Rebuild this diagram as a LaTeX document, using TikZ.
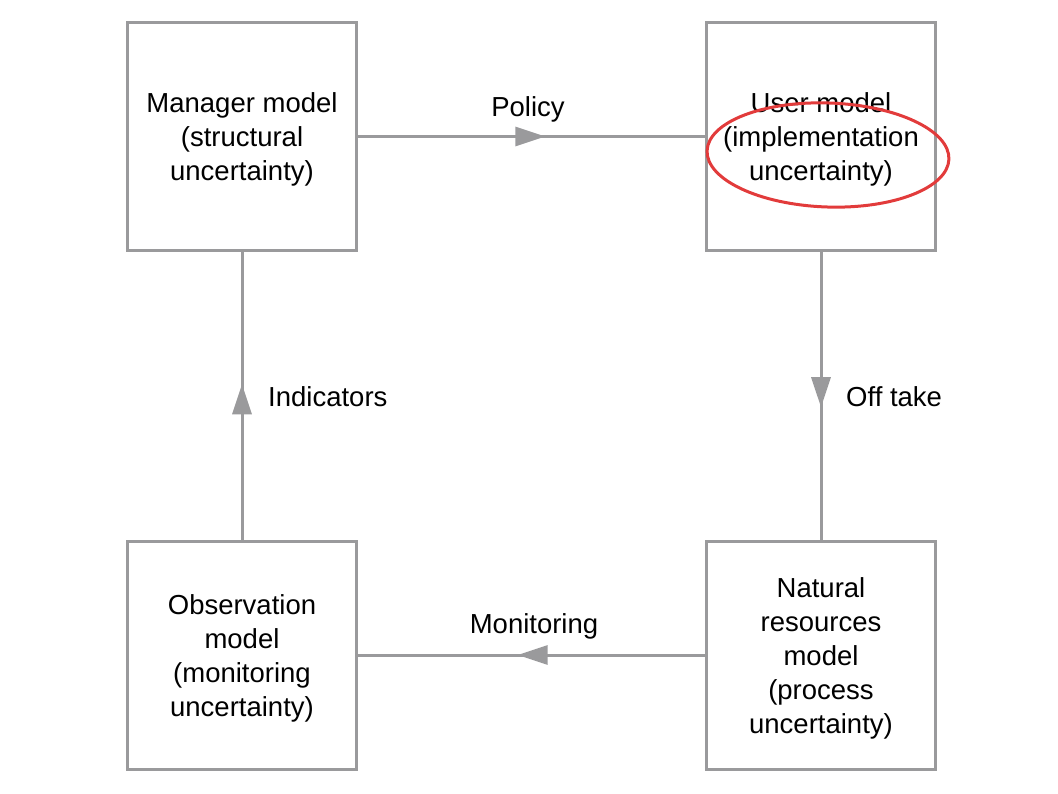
\documentclass[tikz,border=0pt]{standalone}
\usepackage{fontspec}
\setmainfont{Liberation Sans}
\usetikzlibrary{arrows.meta,decorations.markings}
\definecolor{linegray}{HTML}{9A9A9C}
\definecolor{ellred}{HTML}{E23B3B}
\newcommand{\firststrut}{\rule{0pt}{26pt}}
\tikzset{
  modelbox/.style={draw=linegray, line width=3pt, minimum width=229pt, minimum height=228pt, align=center, inner sep=0pt, font=\fontsize{27.5}{34}\selectfont},
  lbl/.style={font=\fontsize{27.5}{34}\selectfont, inner sep=0pt},
  flow/.style={draw=linegray, line width=3pt, postaction={decorate}, decoration={markings, mark=at position 0.54 with {\arrow[linegray]{Triangle[length=30pt,width=19pt]}}}}
}
\begin{document}
\begin{tikzpicture}[x=1pt,y=-1pt]
\useasboundingbox (0,0) rectangle (1058,794);
\node[modelbox] (mgr) at (242,136.5) {\firststrut Manager model\\(structural\\uncertainty)};
\node[modelbox] (usr) at (821,136.5) {\firststrut User model\\(implementation\\uncertainty)};
\node[modelbox] (obs) at (242,655) {\firststrut Observation\\model\\(monitoring\\uncertainty)};
\node[modelbox] (nat) at (821,655) {\firststrut Natural\\resources\\model\\(process\\uncertainty)};
\draw[flow] (mgr.east) -- (usr.west);
\draw[flow] (usr.south) -- (nat.north);
\draw[flow] (nat.west) -- (obs.east);
\draw[flow] (obs.north) -- (mgr.south);
\node[lbl] (policy) at (528,109) {Policy};
\node[lbl, anchor=west] (offtake) at (846,397) {Off take};
\node[lbl] (monitoring) at (534,626) {Monitoring};
\node[lbl, anchor=west] (indicators) at (268,397) {Indicators};
\draw[ellred, line width=3pt, rotate around={-2:(828,155)}] (828,155) ellipse [x radius=121, y radius=52];
\end{tikzpicture}
\end{document}
